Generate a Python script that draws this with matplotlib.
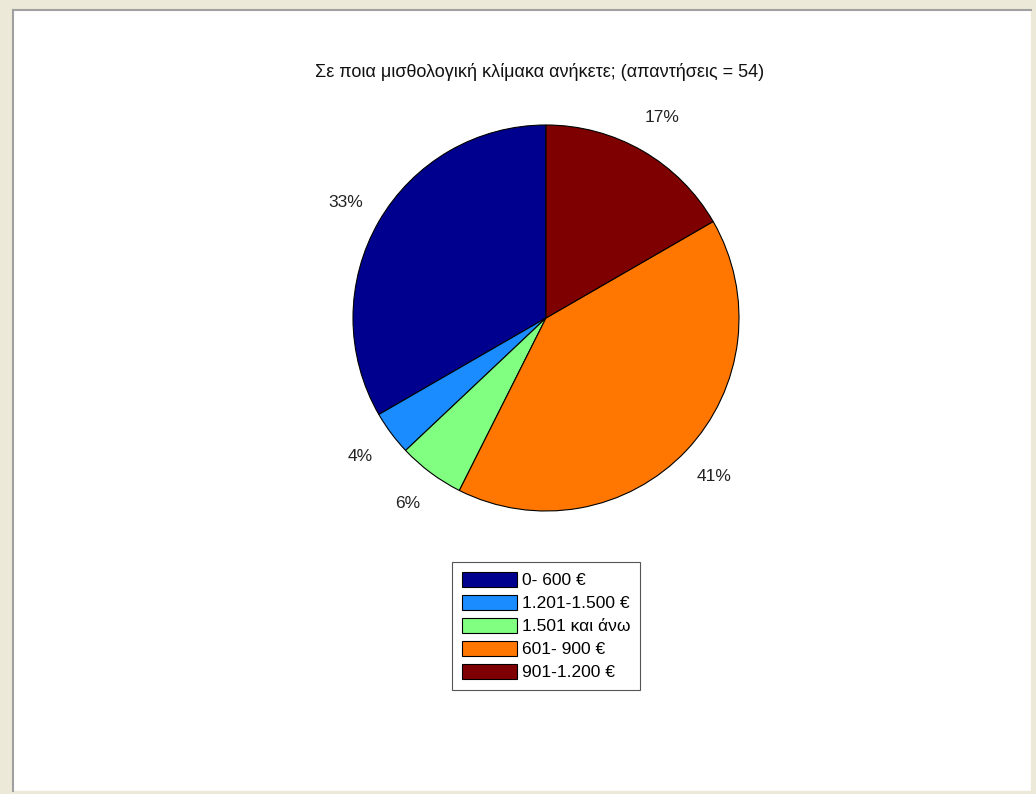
import matplotlib.pyplot as plt
from matplotlib.patches import Rectangle
from matplotlib.lines import Line2D

# data
labels = ["0- 600 €", "1.201-1.500 €", "1.501 και άνω", "601- 900 €", "901-1.200 €"]
counts = [18, 2, 3, 22, 9]
pct_text = ["33%", "4%", "6%", "41%", "17%"]
colors = ["#00008F", "#1A8CFF", "#80FF80", "#FF7700", "#7F0000"]
title = "Σε ποια μισθολογική κλίμακα ανήκετε; (απαντήσεις = 54)"

plt.rcParams['font.family'] = ['Liberation Sans', 'DejaVu Sans']

fig = plt.figure(figsize=(10.36, 7.94), dpi=100)
fig.patch.set_facecolor("white")

# window frame around the figure
W, H = 1036, 794
def fx(x): return x / W
def fy(y): return 1 - y / H
frame = "#ECE9D8"
for rect in [(0, 0, fx(12), 1),
             (0, fy(9), 1, 1 - fy(9)),
             (fx(1031), 0, 1 - fx(1031), 1),
             (0, 0, 1, fy(791))]:
    fig.patches.append(Rectangle(rect[:2], rect[2], rect[3], transform=fig.transFigure,
                                 color=frame, zorder=-5))
fig.lines.append(Line2D([fx(13), fx(13)], [fy(791), fy(10)], transform=fig.transFigure,
                        color="#A0A0A0", lw=1.5, zorder=-4))
fig.lines.append(Line2D([fx(13), fx(1031)], [fy(10), fy(10)], transform=fig.transFigure,
                        color="#A0A0A0", lw=1.5, zorder=-4))

# pie axes: centre (546, 318), radius ~193 px
r = 193
ax = fig.add_axes([fx(546 - r), fy(318 + r), 2 * r / W, 2 * r / H])
wedges, texts = ax.pie(counts, colors=colors, startangle=90, counterclock=True,
                       labels=pct_text, labeldistance=1.2,
                       wedgeprops=dict(edgecolor="black", linewidth=0.8),
                       textprops=dict(fontsize=12.5, color="#222222"))
for t in texts:
    t.set_ha("center")
    t.set_va("center")
ax.set_aspect("equal")
ax.set_xlim(-1, 1)
ax.set_ylim(-1, 1)

fig.text(fx(540), fy(72), title, ha="center", va="center", fontsize=13, color="#111111")

leg = fig.legend(wedges, labels, loc="center", bbox_to_anchor=(fx(546), fy(626)),
                 fontsize=12.5, frameon=True, fancybox=False, edgecolor="#555555",
                 framealpha=1, handlelength=3.2, handleheight=1.0, handletextpad=0.25,
                 labelspacing=0.36, borderpad=0.55, borderaxespad=0)
leg.get_frame().set_linewidth(0.8)

fig.savefig("out.png", dpi=100)
